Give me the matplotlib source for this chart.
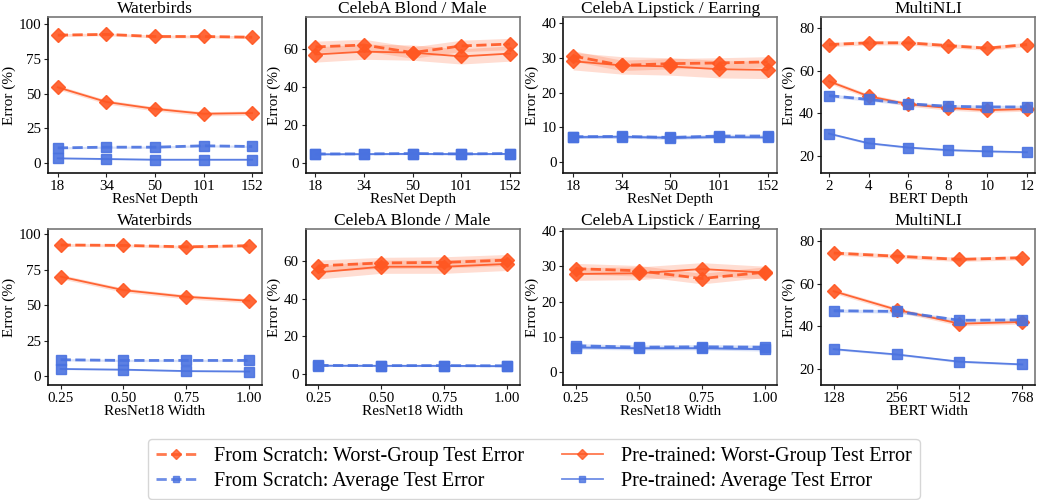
import matplotlib.pyplot as plt
import numpy as np

plt.rcParams['font.family'] = 'serif'
plt.rcParams['font.serif'] = ['Liberation Serif', 'DejaVu Serif']
plt.rcParams['mathtext.fontset'] = 'stix'

ORANGE = '#FF5722'
BLUE = '#4A72E0'

# ---- top row: depth ----
depth_titles = ['Waterbirds', 'CelebA Blond / Male', 'CelebA Lipstick / Earring', 'MultiNLI']
depth_xlabels = ['ResNet Depth', 'ResNet Depth', 'ResNet Depth', 'BERT Depth']
depth_ticks = [['18', '34', '50', '101', '152']] * 3 + [['2', '4', '6', '8', '10', '12']]

wb_d_scratch_worst = [92.0, 92.5, 91.0, 91.0, 90.5]
wb_d_pre_worst = [54.5, 44.0, 39.0, 35.5, 36.0]
wb_d_scratch_avg = [11.0, 11.5, 11.5, 12.5, 12.0]
wb_d_pre_avg = [3.5, 3.0, 2.5, 2.5, 2.5]

cb_d_scratch_worst = [61.0, 62.0, 58.0, 61.5, 62.5]
cb_d_pre_worst = [57.0, 58.5, 58.0, 56.0, 57.5]
cb_d_scratch_avg = [4.8, 4.8, 5.0, 4.8, 5.0]
cb_d_pre_avg = [4.6, 4.7, 4.8, 4.7, 4.8]

cl_d_scratch_worst = [30.5, 27.8, 28.3, 28.5, 28.8]
cl_d_pre_worst = [29.0, 27.8, 27.5, 26.7, 26.5]
cl_d_scratch_avg = [7.3, 7.4, 7.1, 7.5, 7.5]
cl_d_pre_avg = [7.2, 7.3, 7.0, 7.2, 7.1]

mn_d_scratch_worst = [72.2, 73.0, 73.0, 71.7, 70.5, 72.2]
mn_d_pre_worst = [55.0, 48.0, 44.3, 42.5, 41.5, 42.0]
mn_d_scratch_avg = [48.3, 46.5, 44.5, 43.3, 43.0, 43.0]
mn_d_pre_avg = [30.5, 26.0, 24.0, 22.8, 22.2, 21.8]

# ---- bottom row: width ----
width_titles = ['Waterbirds', 'CelebA Blonde / Male', 'CelebA Lipstick / Earring', 'MultiNLI']
width_xlabels = ['ResNet18 Width', 'ResNet18 Width', 'ResNet18 Width', 'BERT Width']
width_ticks = [['0.25', '0.50', '0.75', '1.00']] * 3 + [['128', '256', '512', '768']]

wb_w_scratch_worst = [92.3, 92.0, 91.0, 91.8]
wb_w_pre_worst = [70.0, 60.5, 55.8, 53.0]
wb_w_scratch_avg = [11.5, 11.0, 11.0, 11.0]
wb_w_pre_avg = [5.0, 4.5, 3.5, 3.2]

cb_w_scratch_worst = [57.5, 59.0, 59.3, 60.5]
cb_w_pre_worst = [54.0, 57.0, 57.0, 58.5]
cb_w_scratch_avg = [4.6, 4.5, 4.5, 4.4]
cb_w_pre_avg = [4.5, 4.4, 4.4, 4.2]

cl_w_scratch_worst = [29.3, 28.7, 26.5, 28.3]
cl_w_pre_worst = [27.8, 28.0, 29.2, 28.2]
cl_w_scratch_avg = [7.5, 7.1, 7.2, 7.1]
cl_w_pre_avg = [7.0, 6.8, 6.8, 6.5]

mn_w_scratch_worst = [74.5, 73.0, 71.5, 72.3]
mn_w_pre_worst = [56.5, 47.8, 41.2, 42.0]
mn_w_scratch_avg = [47.3, 47.0, 42.8, 43.0]
mn_w_pre_avg = [29.2, 26.7, 23.3, 22.0]

# band half-widths (std) per panel: scratch worst, pre worst, scratch avg, pre avg
depth_std = [[1.0, 1.5, 0.8, 0.5], [3.0, 4.0, 0.5, 0.4], [1.5, 2.5, 0.5, 0.4], [1.0, 1.0, 0.8, 0.5]]
width_std = [[1.0, 1.5, 0.8, 0.5], [3.0, 3.5, 0.5, 0.4], [1.5, 1.8, 0.6, 0.5], [1.0, 1.0, 0.8, 0.5]]

depth_data = [
    (wb_d_scratch_worst, wb_d_pre_worst, wb_d_scratch_avg, wb_d_pre_avg),
    (cb_d_scratch_worst, cb_d_pre_worst, cb_d_scratch_avg, cb_d_pre_avg),
    (cl_d_scratch_worst, cl_d_pre_worst, cl_d_scratch_avg, cl_d_pre_avg),
    (mn_d_scratch_worst, mn_d_pre_worst, mn_d_scratch_avg, mn_d_pre_avg),
]
width_data = [
    (wb_w_scratch_worst, wb_w_pre_worst, wb_w_scratch_avg, wb_w_pre_avg),
    (cb_w_scratch_worst, cb_w_pre_worst, cb_w_scratch_avg, cb_w_pre_avg),
    (cl_w_scratch_worst, cl_w_pre_worst, cl_w_scratch_avg, cl_w_pre_avg),
    (mn_w_scratch_worst, mn_w_pre_worst, mn_w_scratch_avg, mn_w_pre_avg),
]

depth_ylims = [(-7, 105), (-5.2, 76.7), (-3.1, 41.7), (12.1, 85.1)]
depth_yticks = [[0, 25, 50, 75, 100], [0, 20, 40, 60], [0, 10, 20, 30, 40], [20, 40, 60, 80]]
width_ylims = [(-6.3, 103.5), (-5.8, 77), (-3.6, 40.5), (12.3, 85.8)]
width_yticks = depth_yticks

labels = ['From Scratch: Worst-Group Test Error', 'Pre-trained: Worst-Group Test Error',
          'From Scratch: Average Test Error', 'Pre-trained: Average Test Error']
styles = [(ORANGE, 'D', '--', 2.0, 7), (ORANGE, 'D', '-', 1.3, 7),
          (BLUE, 's', '--', 2.0, 6.5), (BLUE, 's', '-', 1.3, 6.5)]

fig, axes = plt.subplots(2, 4, figsize=(10.37, 5.0), dpi=100)
plt.subplots_adjust(left=0.0463, right=0.998, top=0.966, bottom=0.23, wspace=0.205, hspace=0.36)


def draw(ax, data, stds, ticks, title, xlabel, ylim, yticks):
    x = np.arange(len(ticks))
    handles = []
    for series, sd, (c, m, ls, lw, ms) in zip(data, stds, styles):
        y = np.array(series)
        ax.fill_between(x, y - sd, y + sd, color=c, alpha=0.2, lw=0)
        h, = ax.plot(x, y, color=c, marker=m, ls=ls, lw=lw, ms=ms, alpha=0.9)
        handles.append(h)
    ax.set_xticks(x)
    ax.set_xticklabels(ticks)
    ax.set_yticks(yticks)
    ax.set_ylim(*ylim)
    ax.set_xlim(-0.2, len(ticks) - 1 + 0.2)
    ax.set_title(title, fontsize=12.5, pad=1)
    ax.set_xlabel(xlabel, fontsize=11, labelpad=0)
    ax.set_ylabel('Error (%)', fontsize=11, labelpad=2)
    ax.tick_params(labelsize=10.8, length=3, pad=2, color='#222222')
    for side in ['left', 'bottom']:
        ax.spines[side].set_color('#111111')
        ax.spines[side].set_linewidth(1.2)
    for side in ['top', 'right']:
        ax.spines[side].set_color('#777777')
        ax.spines[side].set_linewidth(1.2)
    return handles


for i in range(4):
    handles = draw(axes[0, i], depth_data[i], depth_std[i], depth_ticks[i],
                   depth_titles[i], depth_xlabels[i], depth_ylims[i], depth_yticks[i])
    draw(axes[1, i], width_data[i], width_std[i], width_ticks[i],
         width_titles[i], width_xlabels[i], width_ylims[i], width_yticks[i])

order = [0, 2, 1, 3]
leg = fig.legend([handles[k] for k in order], [labels[k] for k in order],
                 loc='lower center', bbox_to_anchor=(0.5145, -0.018), ncol=2, fontsize=14.5,
                 frameon=True, columnspacing=1.9, handlelength=2.0, handletextpad=0.9,
                 labelspacing=0.3, markerscale=0.75, edgecolor='#cccccc')
for line in leg.get_lines():
    line.set_alpha(0.8)

fig.savefig('out.png', dpi=100)
